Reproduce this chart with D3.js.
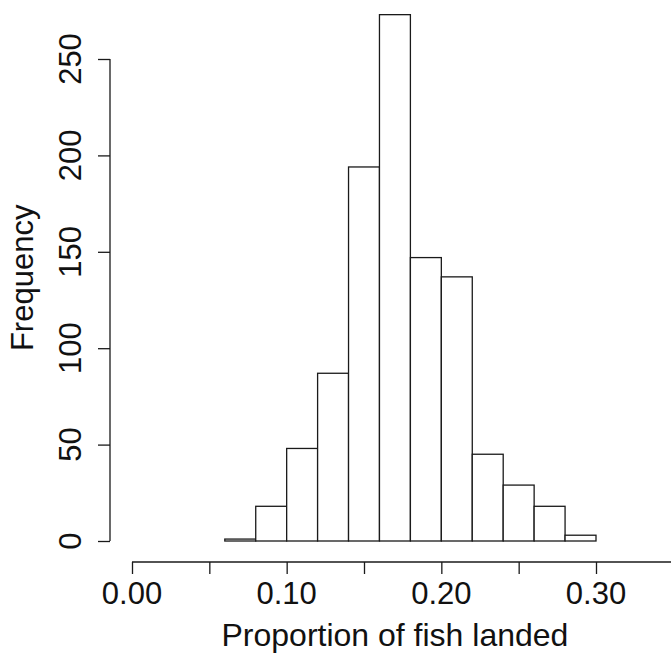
<!DOCTYPE html>
<html>
<head>
<meta charset="utf-8">
<script src="https://cdn.jsdelivr.net/npm/d3@7"></script>
<style>
body { margin: 0; background: #fff; }
text { font-family: "Liberation Sans", Arial, sans-serif; fill: #111; }
</style>
</head>
<body>
<script>
// histogram of proportions, bins 0.02 wide
var binStart = [0.00, 0.02, 0.04, 0.06, 0.08, 0.10, 0.12, 0.14, 0.16, 0.18, 0.20, 0.22, 0.24, 0.26, 0.28, 0.30, 0.32]
var counts   = [0,    0,    0,    1,    18,   48,   87,   194,  273,  147,  137,  45,   29,   18,   3,    0,    0]
var binWidth = 0.02
var xTicks = [0, 0.05, 0.10, 0.15, 0.20, 0.25, 0.30, 0.35]
var xLabels = [0, 0.10, 0.20, 0.30]
var yTicks = [0, 50, 100, 150, 200, 250]

var width = 671, height = 660

var svg = d3.select("body").append("svg")
    .attr("width", width)
    .attr("height", height)

var x = d3.scaleLinear().domain([0, 0.30]).range([132, 596])
var y = d3.scaleLinear().domain([0, 250]).range([541, 59])

// bars
svg.append("g").selectAll("rect")
    .data(counts)
    .enter().append("rect")
    .attr("x", (d, i) => x(binStart[i]))
    .attr("width", (d, i) => x(binStart[i] + binWidth) - x(binStart[i]))
    .attr("y", d => y(d))
    .attr("height", d => y(0) - y(d))
    .attr("fill", "white")
    .attr("stroke", "#1a1a1a")
    .attr("stroke-width", 1.3)

// x axis (R style, offset below the bars)
var xAxis = d3.axisBottom(x)
    .tickValues(xTicks)
    .tickSize(12)
    .tickFormat("")
var gx = svg.append("g")
    .attr("transform", "translate(0,562)")
    .call(xAxis)
gx.select(".domain").attr("d", "M" + x(0) + ",0H" + x(0.35))
gx.selectAll("line, path").attr("stroke", "#1a1a1a").attr("stroke-width", 1.3)

svg.append("g").selectAll("text")
    .data(xLabels)
    .enter().append("text")
    .attr("x", d => x(d))
    .attr("y", 604)
    .attr("text-anchor", "middle")
    .attr("font-size", 31)
    .text(d => d3.format(".2f")(d))

// y axis
var yAxis = d3.axisLeft(y)
    .tickValues(yTicks)
    .tickSize(12)
    .tickFormat("")
var gy = svg.append("g")
    .attr("transform", "translate(110,0)")
    .call(yAxis)
gy.select(".domain").attr("d", "M0," + y(0) + "V" + y(250))
gy.selectAll("line, path").attr("stroke", "#1a1a1a").attr("stroke-width", 1.3)

svg.append("g").selectAll("text")
    .data(yTicks)
    .enter().append("text")
    .attr("transform", d => "translate(81," + y(d) + ") rotate(-90)")
    .attr("text-anchor", "middle")
    .attr("font-size", 31)
    .text(d => d)

// titles, centred on the plot region like R does
svg.append("text")
    .attr("x", x(0.17))
    .attr("y", 646)
    .attr("text-anchor", "middle")
    .attr("font-size", 32)
    .text("Proportion of fish landed")

svg.append("text")
    .attr("transform", "translate(33," + y(136.5) + ") rotate(-90)")
    .attr("text-anchor", "middle")
    .attr("font-size", 31)
    .text("Frequency")
</script>
</body>
</html>
